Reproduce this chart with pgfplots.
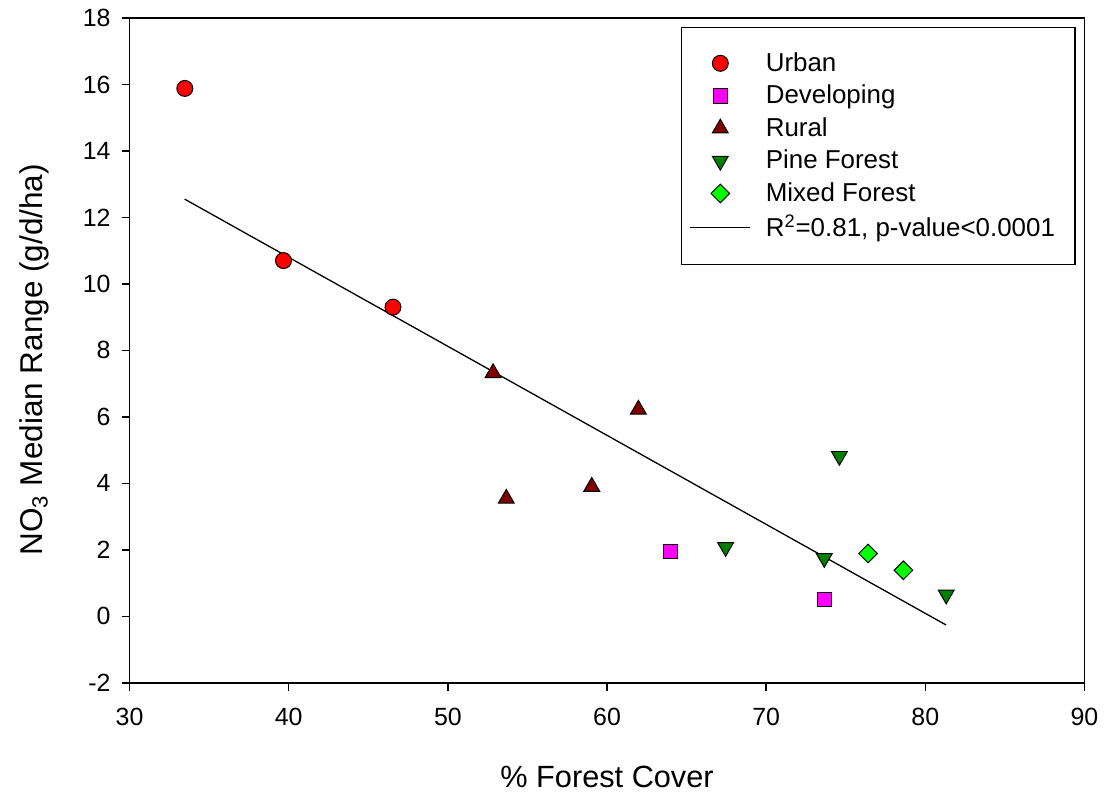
\documentclass[border=0pt]{standalone}
\usepackage{fontspec}
\setmainfont{Liberation Sans}
\usepackage{pgfplots}
\pgfplotsset{compat=1.18}
\definecolor{urban}{RGB}{255,0,0}
\definecolor{dev}{RGB}{255,0,255}
\definecolor{rural}{RGB}{128,0,0}
\definecolor{pine}{RGB}{0,128,0}
\definecolor{mixed}{RGB}{0,255,0}
\pgfplotsset{
  legimg/.style={legend image code/.code={\draw[mark repeat=2,mark phase=2,##1] plot coordinates {(0pt,0pt)(15pt,0pt)(30pt,0pt)};}},
}
\begin{document}
\begin{tikzpicture}
\begin{axis}[
  scale only axis, width=479pt, height=333.5pt,
  xmin=30, xmax=90, ymin=-2, ymax=18,
  xtick={30,40,...,90}, ytick={-2,0,...,18},
  tick align=outside, xtick pos=bottom, ytick pos=left,
  major tick length=4pt,
  axis line style={line width=0.75pt},
  every tick/.style={line width=0.75pt, black},
  /pgf/number format/assume math mode=true,
  ticklabel style={font=\fontsize{12.5}{15}\selectfont},
  xticklabel style={yshift=-5pt},
  yticklabel style={xshift=-2pt},
  xlabel={\% Forest Cover},
  ylabel={NO\textsubscript{3} Median Range (g/d/ha)},
  label style={font=\fontsize{15.4}{18}\selectfont},
  xlabel style={at={(axis description cs:0.5,-0.1417)}, anchor=center},
  ylabel style={at={(axis description cs:-0.1,0.486)}, anchor=center, font=\fontsize{15.8}{18}\selectfont},
  legend style={at={(axis description cs:0.9906,0.9865)}, anchor=north east,
    draw=black, line width=0.6pt, font=\fontsize{13}{15.6}\selectfont,
    inner xsep=4pt, inner ysep=10.5pt, row sep=1.4pt,
    /tikz/every odd column/.append style={column sep=5.5pt}},
  legend cell align=left,
]
\addplot[only marks, legimg, mark=*, mark size=4pt, mark options={draw=black, fill=urban, line width=0.5pt}]
  coordinates {(33.47,15.88) (39.67,10.70) (46.55,9.30)};
\addlegendentry{Urban}
\addplot[only marks, legimg, mark=square*, mark size=3.6pt, mark options={draw=black, fill=dev, line width=0.5pt}]
  coordinates {(64.0,1.95) (73.65,0.51)};
\addlegendentry{Developing}
\addplot[only marks, legimg, mark=triangle*, mark size=4.6pt, mark options={draw=black, fill=rural, line width=0.5pt}]
  coordinates {(52.84,7.32) (61.97,6.22) (53.67,3.54) (59.04,3.90)};
\addlegendentry{Rural}
\addplot[only marks, legimg, mark=triangle*, mark size=4.6pt, mark options={draw=black, fill=pine, line width=0.5pt, rotate=180}]
  coordinates {(74.60,4.82) (67.45,2.08) (73.65,1.75) (81.31,0.65)};
\addlegendentry{Pine Forest}
\addplot[only marks, legimg, mark=square*, mark size=3.3pt, mark options={draw=black, fill=mixed, line width=0.5pt, rotate=45}]
  coordinates {(76.40,1.89) (78.62,1.385)};
\addlegendentry{Mixed Forest}
\addplot[legimg, black, line width=0.65pt, mark=none]
  coordinates {(33.46,12.55) (81.30,-0.26)};
\addlegendentry{R\textsuperscript{2}=0.81, p-value<0.0001\hspace*{4pt}}
\end{axis}
\path[use as bounding box] ([shift={(-65pt,-55.5pt)}]current axis.south west) rectangle ([shift={(487.5pt,342.5pt)}]current axis.south west);
\end{tikzpicture}
\end{document}
